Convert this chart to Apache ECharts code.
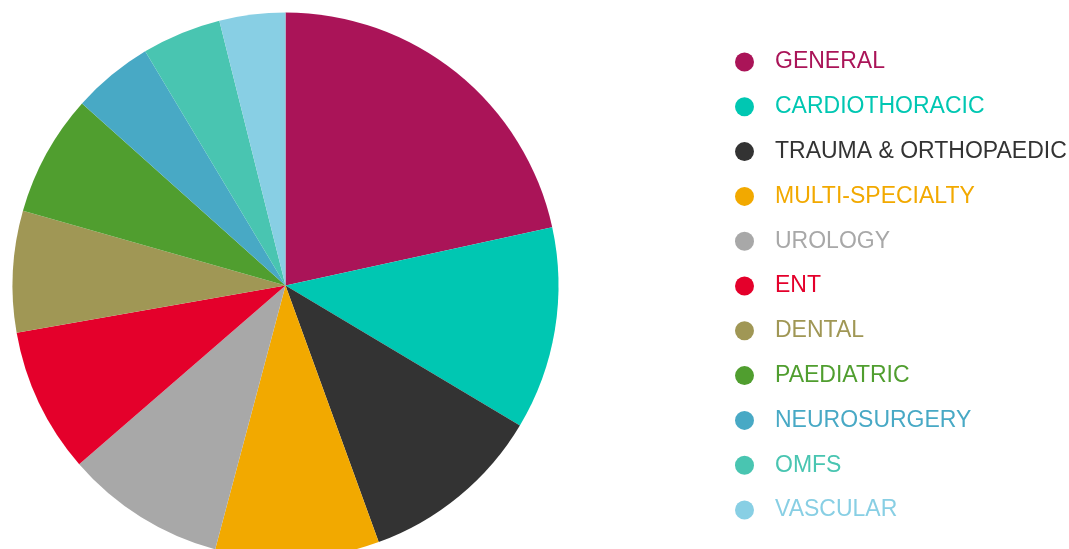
<!DOCTYPE html>
<html>
<head>
<meta charset="utf-8">
<script src="https://cdn.jsdelivr.net/npm/echarts@6/dist/echarts.min.js"></script>
<style>
  html, body { margin: 0; padding: 0; background: #fff; }
  #chart { width: 1069px; height: 549px; }
</style>
</head>
<body>
<div id="chart"></div>
<script>
// specialties, clockwise from 12 o'clock
var categories = ['GENERAL', 'CARDIOTHORACIC', 'TRAUMA & ORTHOPAEDIC', 'MULTI-SPECIALTY',
  'UROLOGY', 'ENT', 'DENTAL', 'PAEDIATRIC', 'NEUROSURGERY', 'OMFS', 'VASCULAR'];
var values = [216, 120, 109, 97, 95, 86, 72, 72, 48, 47, 39];
var colors = ['#aa1458', '#00c7b2', '#333333', '#f2a900', '#a8a8a8', '#e4002b',
  '#a09755', '#509e2f', '#48a9c5', '#49c5b1', '#88cfe4'];

var pieData = [];
var legendData = [];
categories.forEach(function (name, i) {
  pieData.push({ name: name, value: values[i], itemStyle: { color: colors[i] } });
  legendData.push({ name: name, textStyle: { color: colors[i] } });
});

var myChart = echarts.init(document.getElementById('chart'));
myChart.setOption({
  animation: false,
  legend: {
    orient: 'vertical',
    left: 735,
    top: 50.5,
    height: 520,
    padding: 0,
    icon: 'circle',
    itemWidth: 19,
    itemHeight: 19,
    itemGap: 21.8,
    textStyle: { fontFamily: 'Liberation Sans', fontSize: 23, padding: [0, 0, 0, 16] },
    data: legendData
  },
  series: [{
    type: 'pie',
    center: [285.5, 285.5],
    radius: 273,
    startAngle: 90,
    clockwise: true,
    label: { show: false },
    labelLine: { show: false },
    emphasis: { disabled: true },
    data: pieData
  }]
});
</script>
</body>
</html>
